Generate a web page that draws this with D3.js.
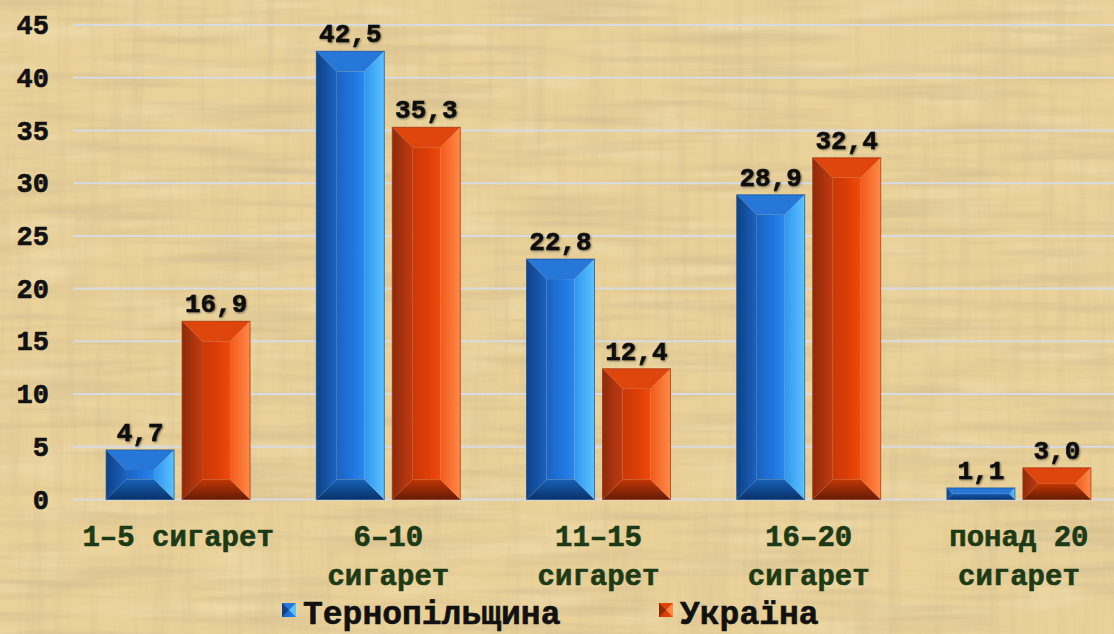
<!DOCTYPE html>
<html>
<head>
<meta charset="utf-8">
<script src="https://cdn.jsdelivr.net/npm/d3@7"></script>
<style>
  html, body { margin: 0; padding: 0; background: #efd9a3; }
  svg { display: block; }
  text { font-family: "Liberation Mono", "DejaVu Sans Mono", monospace; font-weight: bold; }
</style>
</head>
<body>
<svg id="chart" width="1114" height="634"></svg>
<script>
const categories = [["1–5 сигарет"], ["6–10", "сигарет"], ["11–15", "сигарет"], ["16–20", "сигарет"], ["понад 20", "сигарет"]];
const seriesNames = ["Тернопільщина", "Україна"];
const ternopil = [4.7, 42.5, 22.8, 28.9, 1.1];
const ukraine = [16.9, 35.3, 12.4, 32.4, 3.0];
const yTicks = [0, 5, 10, 15, 20, 25, 30, 35, 40, 45];

const W = 1114, H = 634;
const svg = d3.select("#chart");
const defs = svg.append("defs");

// papyrus background
const f1 = defs.append("filter").attr("id", "fibH").attr("x", 0).attr("y", 0).attr("width", 1).attr("height", 1);
f1.append("feTurbulence").attr("type", "fractalNoise").attr("baseFrequency", "0.006 0.09").attr("numOctaves", 3).attr("seed", 4).attr("result", "n");
f1.append("feColorMatrix").attr("in", "n").attr("type", "matrix")
  .attr("values", "0 0 0 0 0.64  0 0 0 0 0.50  0 0 0 0 0.28  1.8 0 0 0 -0.82");
const f2 = defs.append("filter").attr("id", "fibV").attr("x", 0).attr("y", 0).attr("width", 1).attr("height", 1);
f2.append("feTurbulence").attr("type", "fractalNoise").attr("baseFrequency", "0.09 0.006").attr("numOctaves", 3).attr("seed", 9).attr("result", "n");
f2.append("feColorMatrix").attr("in", "n").attr("type", "matrix")
  .attr("values", "0 0 0 0 0.66  0 0 0 0 0.53  0 0 0 0 0.30  1.6 0 0 0 -0.74");
const f3 = defs.append("filter").attr("id", "lite").attr("x", 0).attr("y", 0).attr("width", 1).attr("height", 1);
f3.append("feTurbulence").attr("type", "fractalNoise").attr("baseFrequency", "0.01 0.05").attr("numOctaves", 2).attr("seed", 2).attr("result", "n");
f3.append("feColorMatrix").attr("in", "n").attr("type", "matrix")
  .attr("values", "0 0 0 0 0.98  0 0 0 0 0.92  0 0 0 0 0.74  1.2 0 0 0 -0.6");

svg.append("rect").attr("width", W).attr("height", H).attr("fill", "#e9d198");
svg.append("rect").attr("width", W).attr("height", H).attr("filter", "url(#lite)").attr("opacity", 0.55);
svg.append("rect").attr("width", W).attr("height", H).attr("filter", "url(#fibH)").attr("opacity", 0.9);
svg.append("rect").attr("width", W).attr("height", H).attr("filter", "url(#fibV)").attr("opacity", 0.6);

// scales
const y = d3.scaleLinear().domain([0, 45]).range([499.5, 25]);
const x0 = d3.scaleBand().domain(d3.range(categories.length)).range([73, 1124]).paddingInner(0.315).paddingOuter(0.1575);
const x1 = d3.scaleBand().domain(d3.range(seriesNames.length)).range([0, x0.bandwidth()]).paddingInner(0.105);

// gridlines
svg.append("g").selectAll("line").data(yTicks).join("line")
  .attr("x1", 73).attr("x2", W)
  .attr("y1", d => y(d)).attr("y2", d => y(d))
  .attr("stroke", "#d9dbe2").attr("stroke-width", 2);

// y axis labels via d3 axis
const yAxis = svg.append("g").attr("transform", "translate(50,0)")
  .call(d3.axisLeft(y).tickValues(yTicks).tickSize(0).tickPadding(1));
yAxis.select(".domain").remove();
yAxis.selectAll("text").attr("font-size", 27).attr("fill", "#111")
  .attr("stroke", "#111").attr("stroke-width", 0.6)
  .style("font-family", '"Liberation Mono", monospace').style("font-weight", "bold");

// gradients for bevel bars
const pal = [
  { face: ["#1a62c0", "#1f74dc", "#2a86ea"], left: ["#0f4186", "#1a62c0"], right: ["#2f95f0", "#5cc2ff"], top: "#2777d8", bottom: ["#1560b8", "#0a3268"], stroke: "#0f4d9a" },
  { face: ["#c9380a", "#dd3e06", "#ee4a0c"], left: ["#8e2a0c", "#c03a10"], right: ["#f25a1c", "#ff8a48"], top: "#de460e", bottom: ["#c03606", "#661c04"], stroke: "#a02c06" }
];
pal.forEach((p, i) => {
  const g1 = defs.append("linearGradient").attr("id", "face" + i).attr("x1", 0).attr("x2", 1).attr("y1", 0).attr("y2", 0);
  g1.append("stop").attr("offset", "0%").attr("stop-color", p.face[0]);
  g1.append("stop").attr("offset", "55%").attr("stop-color", p.face[1]);
  g1.append("stop").attr("offset", "100%").attr("stop-color", p.face[2]);
  const g2 = defs.append("linearGradient").attr("id", "left" + i).attr("x1", 0).attr("x2", 1).attr("y1", 0).attr("y2", 0);
  g2.append("stop").attr("offset", "0%").attr("stop-color", p.left[0]);
  g2.append("stop").attr("offset", "100%").attr("stop-color", p.left[1]);
  const g3 = defs.append("linearGradient").attr("id", "right" + i).attr("x1", 0).attr("x2", 1).attr("y1", 0).attr("y2", 0);
  g3.append("stop").attr("offset", "0%").attr("stop-color", p.right[0]);
  g3.append("stop").attr("offset", "100%").attr("stop-color", p.right[1]);
  const g4 = defs.append("linearGradient").attr("id", "bottom" + i).attr("x1", 0).attr("x2", 0).attr("y1", 0).attr("y2", 1);
  g4.append("stop").attr("offset", "0%").attr("stop-color", p.bottom[0]);
  g4.append("stop").attr("offset", "100%").attr("stop-color", p.bottom[1]);
});

const shadowF = defs.append("filter").attr("id", "tshadow").attr("x", -0.2).attr("y", -0.3).attr("width", 1.4).attr("height", 1.6);
shadowF.append("feGaussianBlur").attr("in", "SourceAlpha").attr("stdDeviation", 1.2).attr("result", "b");
shadowF.append("feOffset").attr("in", "b").attr("dx", 1).attr("dy", 1).attr("result", "o");
shadowF.append("feComponentTransfer").attr("in", "o").attr("result", "o2")
  .append("feFuncA").attr("type", "linear").attr("slope", 0.45);
const fm = shadowF.append("feMerge");
fm.append("feMergeNode").attr("in", "o2");
fm.append("feMergeNode").attr("in", "SourceGraphic");

const data = [];
categories.forEach((c, ci) => {
  [ternopil, ukraine].forEach((arr, si) => data.push({ ci, si, v: arr[ci] }));
});

const bars = svg.append("g").selectAll("g").data(data).join("g");
bars.each(function(d) {
  const g = d3.select(this);
  const bx = x0(d.ci) + x1(d.si), bw = x1.bandwidth();
  const by = y(d.v), bh = y(0) - y(d.v);
  const b = Math.min(20, bh / 2, bw / 2);
  const pts = a => a.map(p => p.join(",")).join(" ");
  const X0 = bx, X1 = bx + bw, Y0 = by, Y1 = by + bh;
  g.append("rect").attr("x", X0 + b).attr("y", Y0 + b).attr("width", Math.max(0, bw - 2 * b)).attr("height", Math.max(0, bh - 2 * b)).attr("fill", `url(#face${d.si})`);
  g.append("polygon").attr("points", pts([[X0, Y0], [X1, Y0], [X1 - b, Y0 + b], [X0 + b, Y0 + b]])).attr("fill", pal[d.si].top);
  g.append("polygon").attr("points", pts([[X0, Y1], [X1, Y1], [X1 - b, Y1 - b], [X0 + b, Y1 - b]])).attr("fill", `url(#bottom${d.si})`);
  g.append("polygon").attr("points", pts([[X0, Y0], [X0 + b, Y0 + b], [X0 + b, Y1 - b], [X0, Y1]])).attr("fill", `url(#left${d.si})`);
  g.append("polygon").attr("points", pts([[X1, Y0], [X1 - b, Y0 + b], [X1 - b, Y1 - b], [X1, Y1]])).attr("fill", `url(#right${d.si})`);
  g.append("rect").attr("x", X0).attr("y", Y0).attr("width", bw).attr("height", bh)
    .attr("fill", "none").attr("stroke", pal[d.si].stroke).attr("stroke-width", 1).attr("stroke-opacity", 0.7);
  g.append("text").attr("x", bx + bw / 2).attr("y", by - 9).attr("text-anchor", "middle")
    .attr("font-size", 26).attr("fill", "#111").attr("stroke", "#111").attr("stroke-width", 0.6)
    .attr("filter", "url(#tshadow)")
    .text(d3.format(".1f")(d.v).replace(".", ","));
});

// category labels
const catG = svg.append("g");
categories.forEach((lines, ci) => {
  const cx = x0(ci) + x0.bandwidth() / 2;
  const t = catG.append("text").attr("x", cx).attr("y", 546)
    .attr("text-anchor", "middle").attr("font-size", 29).attr("fill", "#1d3a16")
    .attr("stroke", "#1d3a16").attr("stroke-width", 0.6);
  lines.forEach((ln, li) => t.append("tspan").attr("x", cx).attr("dy", li === 0 ? 0 : 39).text(ln));
});

// legend
const legendPos = [282, 659];
const legend = svg.append("g");
seriesNames.forEach((name, i) => {
  const lx = legendPos[i];
  const s = legend.append("g");
  const sw = 14, sy = 603;
  s.append("rect").attr("x", lx).attr("y", sy).attr("width", sw).attr("height", sw).attr("fill", `url(#face${i})`);
  s.append("polygon").attr("points", `${lx},${sy} ${lx + sw},${sy} ${lx + sw / 2},${sy + sw / 2}`).attr("fill", pal[i].top);
  s.append("polygon").attr("points", `${lx + sw},${sy} ${lx + sw},${sy + sw} ${lx + sw / 2},${sy + sw / 2}`).attr("fill", pal[i].right[1]);
  s.append("polygon").attr("points", `${lx},${sy} ${lx},${sy + sw} ${lx + sw / 2},${sy + sw / 2}`).attr("fill", pal[i].left[0]);
  legend.append("text").attr("x", lx + 21).attr("y", 624).attr("font-size", 33).attr("fill", "#111")
    .attr("stroke", "#111").attr("stroke-width", 0.6)
    .text(name);
});
</script>
</body>
</html>
